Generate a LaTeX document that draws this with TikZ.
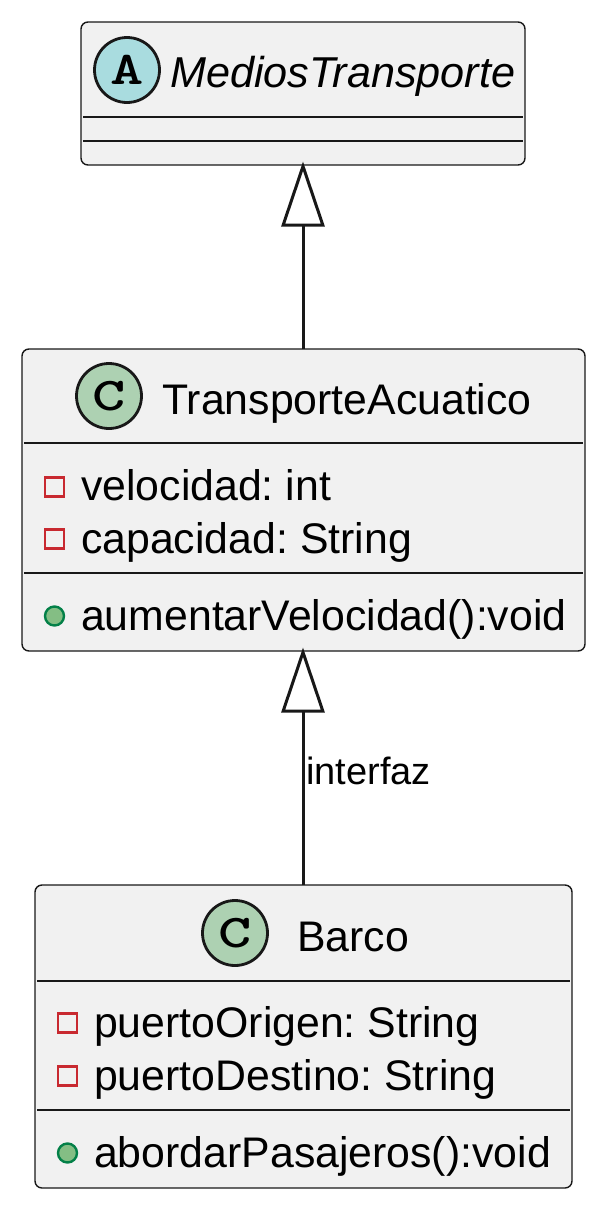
\documentclass[tikz,border=0pt]{standalone}
\usepackage{fontspec}
\setmainfont{Liberation Sans}
\usetikzlibrary{arrows.meta}
\definecolor{boxfill}{HTML}{F1F1F1}
\definecolor{boxline}{HTML}{181818}
\definecolor{spotA}{HTML}{A9DCDF}
\definecolor{spotC}{HTML}{ADD1B2}
\definecolor{privline}{HTML}{C82930}
\definecolor{publine}{HTML}{038048}
\definecolor{pubfill}{HTML}{84BE84}
\tikzset{
  classbox/.style={draw=boxline,fill=boxfill,line width=1.4pt,rounded corners=7pt,inner sep=0pt,outer sep=0pt,anchor=north west},
  spot/.style={circle,draw=boxline,line width=2.8pt,minimum size=65pt,inner sep=0pt,font=\ttfamily\bfseries\fontsize{47}{47}\selectfont},
  member/.style={anchor=base west,inner sep=0pt,font=\fontsize{42.8}{43}\selectfont},
  privicon/.style={draw=privline,fill=boxfill,line width=2.4pt,minimum size=19pt,inner sep=0pt},
  pubicon/.style={circle,draw=publine,fill=pubfill,line width=2.4pt,minimum size=19pt,inner sep=0pt},
  extends/.style={draw=boxline,line width=3pt,shorten >=-3.5pt,-{Triangle[open,fill=white,length=65pt,width=43pt]}},
}
\newcommand{\sepline}[2]{\draw[boxline,line width=1.2pt] ([xshift=2pt]#1.west |- 0,#2) -- ([xshift=-2pt]#1.east |- 0,#2);}
\newcommand{\spotletter}[1]{\scalebox{1.35}[1]{#1}}
\frenchspacing
\begin{document}
\begin{tikzpicture}[x=1pt,y=-1pt]
 \useasboundingbox (0,0) rectangle (603,1205);

 % boxes
 \node[classbox,minimum width=444pt,minimum height=143pt] (medios) at (81,22) {};
 \node[classbox,minimum width=563pt,minimum height=302pt] (acuatico) at (22,349) {};
 \node[classbox,minimum width=537pt,minimum height=303pt] (barco) at (35,885) {};

 % MediosTransporte
 \node[spot,fill=spotA] (spotmedios) at (127,70) {\spotletter{A}};
 \node[member,font=\itshape\fontsize{43.2}{43}\selectfont] (titlemedios) at (170,87) {MediosTransporte};
 \sepline{medios}{117}
 \sepline{medios}{141}

 % TransporteAcuatico
 \node[spot,fill=spotC] (spotacuatico) at (109,396) {\spotletter{C}};
 \node[member] (titleacuatico) at (162,414) {TransporteAcuatico};
 \sepline{acuatico}{443}
 \sepline{acuatico}{573}
 \node[privicon] (iconvel) at (54.5,487) {};
 \node[member] (vel) at (81,500) {velocidad: int};
 \node[privicon] (iconcap) at (54.5,539) {};
 \node[member] (cap) at (81,553) {capacidad: String};
 \node[pubicon] (iconaum) at (54.5,616) {};
 \node[member] (aum) at (81,630) {aumentarVelocidad():void};

 % Barco
 \node[spot,fill=spotC] (spotbarco) at (235,933) {\spotletter{C}};
 \node[member] (titlebarco) at (297,951) {Barco};
 \sepline{barco}{981}
 \sepline{barco}{1110}
 \node[privicon] (iconori) at (67.5,1023) {};
 \node[member] (ori) at (94,1037) {puertoOrigen: String};
 \node[privicon] (icondes) at (67.5,1076) {};
 \node[member] (des) at (94,1090) {puertoDestino: String};
 \node[pubicon] (iconabo) at (67.5,1153) {};
 \node[member] (abo) at (94,1167) {abordarPasajeros():void};

 % inheritance
 \draw[extends] (acuatico.north -| 303,0) -- (medios.south -| 303,0);
 \draw[extends] (barco.north -| 303,0) -- (acuatico.south -| 303,0);
 \node[anchor=base west,inner sep=0pt,font=\fontsize{38}{38}\selectfont] (lblinterfaz) at (306,784.5) {interfaz};
\end{tikzpicture}
\end{document}
